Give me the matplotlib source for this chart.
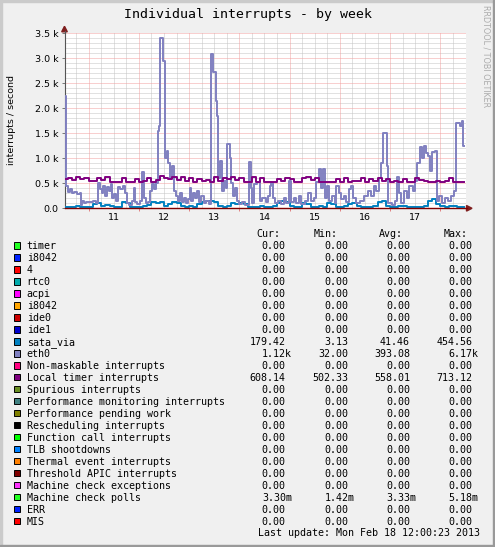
import matplotlib
matplotlib.use("Agg")
import matplotlib.pyplot as plt
from matplotlib.patches import Rectangle, Polygon
import numpy as np

W, H = 495, 547

# ---------------- data ----------------
title = "Individual interrupts - by week"
ylabel = "interrupts / second"
watermark = "RRDTOOL / TOBI OETIKER"
last_update = "Last update: Mon Feb 18 12:00:23 2013"

day_labels = ["11", "12", "13", "14", "15", "16", "17"]
day_label_pos = [11.5, 12.5, 13.5, 14.5, 15.5, 16.5, 17.5]
ytick_vals = [0, 500, 1000, 1500, 2000, 2500, 3000, 3500]
ytick_labels = ["0.0", "0.5 k", "1.0 k", "1.5 k", "2.0 k", "2.5 k", "3.0 k", "3.5 k"]

# eth0: step change points (day of Feb 2013, interrupts/s)
eth0_t = [10.50, 10.54, 10.58, 10.62, 10.66, 10.71, 10.76, 10.82, 10.84, 10.87, 10.90,
          10.95, 11.00, 11.08, 11.14, 11.18, 11.22, 11.26, 11.29, 11.33, 11.36, 11.40,
          11.44, 11.47, 11.51, 11.55, 11.58, 11.63, 11.68, 11.72, 11.77, 11.81, 11.86,
          11.90, 11.92, 11.96, 12.02, 12.07, 12.11, 12.14, 12.19, 12.23, 12.27, 12.31,
          12.35, 12.39, 12.41, 12.43, 12.48, 12.52, 12.55, 12.58, 12.61, 12.65, 12.70,
          12.74, 12.78, 12.82, 12.85, 12.89, 12.93, 12.97, 13.01, 13.04, 13.08, 13.12,
          13.16, 13.20, 13.24, 13.29, 13.34, 13.40, 13.43, 13.48, 13.53, 13.56, 13.58,
          13.62, 13.65, 13.69, 13.73, 13.76, 13.81, 13.84, 13.88, 13.92, 13.96, 14.00,
          14.06, 14.12, 14.19, 14.23, 14.26, 14.30, 14.36, 14.41, 14.46, 14.52, 14.56,
          14.60, 14.63, 14.66, 14.70, 14.76, 14.82, 14.88, 14.93, 14.98, 15.02, 15.08,
          15.13, 15.18, 15.23, 15.30, 15.36, 15.42, 15.48, 15.52, 15.58, 15.62, 15.66,
          15.70, 15.74, 15.78, 15.84, 15.90, 15.93, 15.98, 16.03, 16.08, 16.13, 16.18,
          16.22, 16.27, 16.32, 16.40, 16.48, 16.55, 16.62, 16.67, 16.72, 16.77, 16.82,
          16.86, 16.93, 16.96, 17.04, 17.10, 17.14, 17.18, 17.22, 17.28, 17.33, 17.38,
          17.45, 17.50, 17.54, 17.59, 17.64, 17.68, 17.72, 17.76, 17.80, 17.84, 17.90,
          17.93, 17.98, 18.04, 18.10, 18.16, 18.22, 18.27, 18.31, 18.40, 18.43, 18.45,
          18.48]
eth0_v = [2250, 450, 330, 380, 300, 330, 280, 300, 60, 150, 100,
          130, 120, 150, 110, 500, 380, 300, 450, 250, 420, 350,
          480, 200, 280, 150, 420, 380, 450, 300, 100, 60, 140,
          400, 120, 80, 150, 720, 200, 100, 120, 350, 480, 380,
          500, 1550, 1650, 3400, 2950, 1000, 1150, 900, 600, 850, 350,
          250, 150, 300, 120, 200, 100, 180, 400, 150, 300, 200,
          350, 120, 250, 100, 150, 80, 3080, 2720, 2150, 1850, 600,
          950, 350, 550, 400, 1280, 1000, 500, 250, 400, 150, 80,
          120, 60, 930, 400, 100, 480, 520, 150, 200, 120, 250,
          450, 500, 200, 100, 150, 80, 200, 100, 550, 120, 200,
          100, 250, 80, 150, 300, 150, 200, 520, 780, 400, 780,
          200, 450, 150, 250, 100, 450, 300, 180, 250, 120, 380,
          450, 200, 100, 150, 250, 350, 250, 450, 350, 600, 900,
          1500, 850, 100, 60, 150, 620, 300, 100, 350, 200, 450,
          350, 550, 900, 1220, 1000, 1250, 1100, 1050, 750, 1120, 1150,
          150, 250, 100, 200, 150, 250, 350, 1700, 1650, 1750, 1240,
          1240]

# 2-hour samples starting Feb 10 12:00
local_timer_v = [580, 600, 560, 620, 580, 600,
                 540, 550, 600, 560, 620, 530, 520, 520, 600, 520, 520, 580,
                 530, 550, 600, 520, 560, 650, 600, 580, 620, 560, 620, 550,
                 600, 530, 580, 540, 560, 520, 620, 550, 600, 580, 620, 560,
                 600, 520, 520, 620, 520, 600, 530, 520, 530, 580, 550, 600,
                 580, 530, 530, 600, 620, 560, 600, 530, 520, 530, 520, 580,
                 530, 600, 520, 550, 550, 600, 530, 580, 550, 600, 550, 580,
                 530, 550, 520, 580, 530, 530, 600, 560, 550, 520, 530, 540,
                 530, 550, 600, 530, 530, 530]
sata_via_v = [20, 20, 20, 50, 30, 20,
              30, 80, 100, 50, 60, 40, 20, 30, 120, 100, 30, 20,
              30, 50, 60, 120, 100, 120, 50, 80, 130, 100, 40, 30,
              50, 30, 80, 120, 140, 150, 120, 50, 30, 50, 100, 80,
              100, 80, 30, 20, 30, 50, 20, 30, 40, 100, 150, 120,
              50, 30, 20, 100, 80, 20, 30, 40, 20, 100, 80, 20,
              30, 40, 80, 100, 50, 30, 20, 30, 50, 120, 150, 50,
              30, 20, 50, 40, 20, 20, 30, 20, 50, 150, 180, 80,
              50, 30, 50, 40, 20, 20]
sample_start = 10.5
sample_step_hours = 2

legend_names = ["timer", "i8042", "4", "rtc0", "acpi", "i8042", "ide0", "ide1",
                "sata_via", "eth0", "Non-maskable interrupts", "Local timer interrupts",
                "Spurious interrupts", "Performance monitoring interrupts",
                "Performance pending work", "Rescheduling interrupts",
                "Function call interrupts", "TLB shootdowns", "Thermal event interrupts",
                "Threshold APIC interrupts", "Machine check exceptions",
                "Machine check polls", "ERR", "MIS"]
legend_colors = ["#22ff22", "#0022ff", "#ff0000", "#00aaaa", "#ff00ff", "#ffa500",
                 "#cc0000", "#0000cc", "#0080c0", "#8080c0", "#ff0080", "#800080",
                 "#688e23", "#408080", "#808000", "#000000", "#00ff00", "#0080ff",
                 "#ff8000", "#800000", "#fb31fb", "#22ff22", "#0022ff", "#ff0000"]
Z = "0.00"
cur_vals = [Z] * 8 + ["179.42", "1.12k", Z, "608.14"] + [Z] * 9 + ["3.30m", Z, Z]
min_vals = [Z] * 8 + ["3.13", "32.00", Z, "502.33"] + [Z] * 9 + ["1.42m", Z, Z]
avg_vals = [Z] * 8 + ["41.46", "393.08", Z, "558.01"] + [Z] * 9 + ["3.33m", Z, Z]
max_vals = [Z] * 8 + ["454.56", "6.17k", Z, "713.12"] + [Z] * 9 + ["5.18m", Z, Z]
col_headers = ["Cur:", "Min:", "Avg:", "Max:"]

# ---------------- figure ----------------
BACK = "#F0F0F0"
fig = plt.figure(figsize=(W / 100, H / 100), dpi=100, facecolor=BACK)


def fx(x):
    return x / W


def fy(y):
    return 1 - y / H


AX_L, AX_R, AX_T, AX_B = 64.5, 465.5, 33.3, 208.3
ax = fig.add_axes([fx(AX_L), fy(AX_B), (AX_R - AX_L) / W, (AX_B - AX_T) / H])
ax.set_facecolor("white")
ax.set_xlim(10.52, 18.5)
ax.set_ylim(0, 3500)

# grid
MINOR_C = "#C4C4C4"
MAJOR_C = "#F2A0A0"
dot = (0, (1, 1))
for v in range(100, 3501, 100):
    if v % 500:
        ax.axhline(v, color=MINOR_C, lw=0.72, ls=dot, zorder=1)
for q in np.arange(10.75, 18.5, 0.25):
    if abs(q - round(q)) > 1e-6:
        ax.axvline(q, color=MINOR_C, lw=0.72, ls=dot, zorder=1)
for v in range(500, 3501, 500):
    ax.axhline(v, color=MAJOR_C, lw=0.72, ls=dot, zorder=1.5)
for d in range(11, 19):
    ax.axvline(d, color=MAJOR_C, lw=0.72, ls=dot, zorder=1.5)

# series
t2 = sample_start + np.arange(len(local_timer_v)) * sample_step_hours / 24.0
t2e = np.append(t2, 18.48)
ax.plot(t2e, list(sata_via_v) + [sata_via_v[-1]], drawstyle="steps-post",
        color="#0080c0", lw=1.4, zorder=3)
ax.plot(eth0_t, eth0_v, drawstyle="steps-post", color="#8080c0", lw=1.4, zorder=4)
ax.plot(t2e, list(local_timer_v) + [local_timer_v[-1]], drawstyle="steps-post",
        color="#800080", lw=1.4, zorder=5)

# axes / ticks
for s in ["top", "right"]:
    ax.spines[s].set_visible(False)
ax.spines["left"].set_color("#555555")
ax.spines["left"].set_linewidth(0.8)
ax.spines["bottom"].set_color("#800000")
ax.spines["bottom"].set_linewidth(1.0)
ax.spines["bottom"].set_zorder(6)

ax.set_yticks(ytick_vals)
ax.set_yticklabels(ytick_labels)
ax.tick_params(axis="y", which="major", length=2.2, width=0.7, color="#777777",
               pad=2.3, labelsize=6.8)
ax.set_xticks(range(11, 19))
ax.set_xticklabels([])
ax.set_xticks(day_label_pos, minor=True)
ax.set_xticklabels(day_labels, minor=True)
ax.tick_params(axis="x", which="major", length=2.2, width=0.7, color="#E08080")
ax.tick_params(axis="x", which="minor", length=0, pad=3.6, labelsize=6.8)

# arrows
ARROW = "#7F1F1F"
fig.add_artist(Polygon([[fx(AX_L - 2.8), fy(AX_T - 1.5)], [fx(AX_L + 2.8), fy(AX_T - 1.5)],
                        [fx(AX_L), fy(AX_T - 7)]], closed=True, color=ARROW,
                       transform=fig.transFigure))
fig.add_artist(plt.Line2D([fx(AX_L), fx(AX_L)], [fy(AX_T), fy(AX_T - 2)],
                          color="#555555", lw=0.8, transform=fig.transFigure))
fig.add_artist(plt.Line2D([fx(AX_R), fx(AX_R + 1)], [fy(AX_B), fy(AX_B)],
                          color="#800000", lw=1.0, transform=fig.transFigure))
fig.add_artist(Polygon([[fx(AX_R + 1), fy(AX_B - 2.8)], [fx(AX_R + 1), fy(AX_B + 2.8)],
                        [fx(AX_R + 6.5), fy(AX_B)]], closed=True, color=ARROW,
                       transform=fig.transFigure))

# texts
MONO = "DejaVu Sans Mono"
fig.text(fx(247.5), fy(18), title, family=MONO, fontsize=9.5, ha="center",
         va="baseline", color="black")
fig.text(fx(12), fy(120), ylabel, fontsize=6.8, rotation=90, ha="center",
         va="center", color="black")
fig.text(fx(486), fy(56.5), watermark, fontsize=5.8, rotation=270, ha="center",
         va="center", color="#ABABAB")

# legend
LS = 7.2
base0 = 249.0
rowh = 11.98
hdr_x = [256.7, 314.0, 379.3, 443.3]
val_r = [285.7, 348.3, 410.0, 472.3]
for h, x in zip(col_headers, hdr_x):
    fig.text(fx(x), fy(237), h, family=MONO, fontsize=LS, ha="left", va="baseline")
for k, name in enumerate(legend_names):
    yb = base0 + rowh * k
    fig.add_artist(Rectangle((fx(13.5), fy(yb - 0.3)), 6.5 / W, 6.5 / H,
                             facecolor=legend_colors[k], edgecolor="black", lw=0.7,
                             transform=fig.transFigure))
    fig.text(fx(26.7), fy(yb), name, family=MONO, fontsize=LS, ha="left", va="baseline")
    for col, vals in enumerate([cur_vals, min_vals, avg_vals, max_vals]):
        s = vals[k]
        xr = val_r[col] + (6.5 if s[-1].isalpha() else 0)
        fig.text(fx(xr), fy(yb), s, family=MONO, fontsize=LS, ha="right", va="baseline")
fig.text(fx(480), fy(535.5), last_update, family=MONO, fontsize=LS, ha="right",
         va="baseline")

# frame
fig.add_artist(Rectangle((0, fy(2)), 1, 2 / H, color="#CBCBCB", transform=fig.transFigure))
fig.add_artist(Rectangle((0, 0), 2 / W, 1, color="#CBCBCB", transform=fig.transFigure))
fig.add_artist(Rectangle((0, 0), 1, 2 / H, color="#999999", transform=fig.transFigure))
fig.add_artist(Rectangle((fx(493), 0), 2 / W, 1, color="#999999", transform=fig.transFigure))

fig.savefig("out.png", dpi=100, facecolor=BACK)
